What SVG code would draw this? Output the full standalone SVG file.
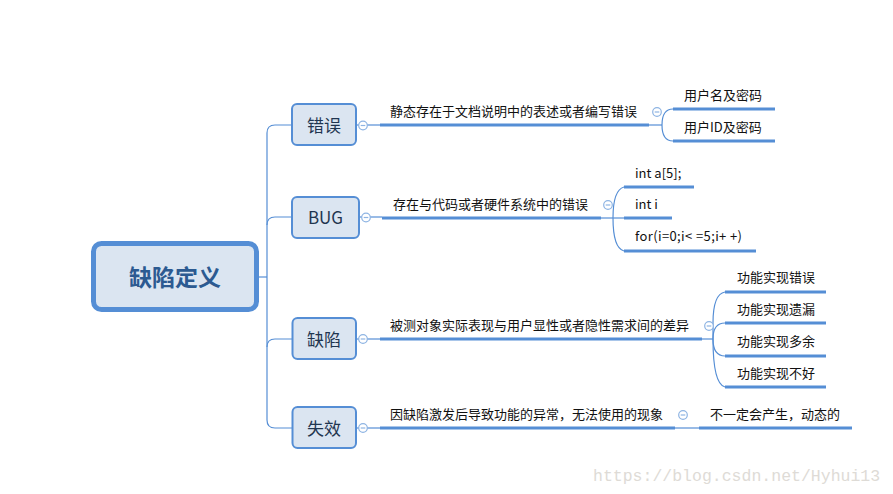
<svg xmlns="http://www.w3.org/2000/svg" width="893" height="494" viewBox="0 0 893 494">
<style>
.bg{fill:#ffffff}
.root{fill:#dbe5f1;stroke:#558ed5;stroke-width:5}
.main{fill:#dbe5f1;stroke:#558ed5;stroke-width:2}
.thin{fill:none;stroke:#558ed5;stroke-width:1.2}
.thick{fill:none;stroke:#558ed5;stroke-width:3}
.col{fill:#ffffff;stroke:#8eb4e3;stroke-width:1.2}
.colbar{stroke:#8eb4e3;stroke-width:1.2}
text{font-family:"Microsoft YaHei","Noto Sans CJK SC","Noto Sans",sans-serif}
.rt{font-size:23px;font-weight:bold;fill:#2c5a91;text-anchor:middle;dominant-baseline:central}
.mt{font-size:17px;fill:#1f3550;text-anchor:middle;dominant-baseline:central}
.st{font-size:13px;fill:#111111;dominant-baseline:central}
.wm{font-family:"Liberation Mono","DejaVu Sans Mono",monospace;font-size:16.5px;fill:#dedbd6}
</style>
<defs>
<g id="collapse"><circle r="4.3" class="col"/><line x1="-2.3" y1="0" x2="2.3" y2="0" class="colbar"/></g>
</defs>
<rect class="bg" x="0" y="0" width="893" height="494"/>

<g id="connectors">
  <path class="thin" d="M259,277 H267"/>
  <path class="thin" d="M292,125 H275 Q267,125 267,133 V420 Q267,428 275,428 H292"/>
  <path class="thin" d="M267,225 Q267,217 275,217 H292"/>
  <path class="thin" d="M267,347 Q267,339 275,339 H292"/>
  <path class="thin" d="M356,125 H380"/>
  <path class="thin" d="M359,217 H382"/>
  <path class="thin" d="M356,339 H380"/>
  <path class="thin" d="M356,428 H380"/>
  <path class="thin" d="M649,125 H662"/>
  <path class="thin" d="M673,109 Q662,109 662,125 Q662,141 673,141"/>
  <path class="thin" d="M601,218 H624"/>
  <path class="thin" d="M624,187 Q613,190 613,218 Q613,248 624,251"/>
  <path class="thin" d="M702,339 H713"/>
  <path class="thin" d="M725,292 Q713,294 713,323 Q713,339 713,339 Q713,384 725,387"/>
  <path class="thin" d="M725,323 Q713,323 713,339 Q713,356 725,356"/>
  <path class="thin" d="M675,428 H699"/>
</g>

<g id="root">
  <rect class="root" x="93.5" y="243.5" width="163" height="66" rx="8"/>
  <text class="rt" x="175" y="276">缺陷定义</text>
</g>

<g id="n-cuowu">
  <rect class="main" x="292" y="104" width="64" height="41" rx="5"/>
  <text class="mt" x="324" y="124">错误</text>
  <use href="#collapse" x="363" y="125.5"/>
</g>
<g id="n-bug">
  <rect class="main" x="292" y="197" width="67" height="41" rx="5"/>
  <text class="mt" x="325.5" y="216.5">BUG</text>
  <use href="#collapse" x="366" y="217.5"/>
</g>
<g id="n-quexian">
  <rect class="main" x="292.5" y="318" width="63.5" height="41" rx="5"/>
  <text class="mt" x="324" y="338">缺陷</text>
  <use href="#collapse" x="363" y="339"/>
</g>
<g id="n-shixiao">
  <rect class="main" x="292.5" y="407" width="63.5" height="41" rx="5"/>
  <text class="mt" x="324" y="427">失效</text>
  <use href="#collapse" x="363" y="428"/>
</g>

<g id="s-cuowu">
  <path class="thick" d="M380,125 H649"/>
  <text class="st" x="390" y="110.5">静态存在于文档说明中的表述或者编写错误</text>
  <use href="#collapse" x="657" y="112"/>
</g>
<g id="c-yonghuming">
  <path class="thick" d="M673,109 H775"/>
  <text class="st" x="684" y="94.5">用户名及密码</text>
</g>
<g id="c-yonghuid">
  <path class="thick" d="M673,141 H775"/>
  <text class="st" x="684" y="126.5">用户ID及密码</text>
</g>

<g id="s-bug">
  <path class="thick" d="M382,218 H601"/>
  <text class="st" x="393" y="203.5">存在与代码或者硬件系统中的错误</text>
  <use href="#collapse" x="608" y="205"/>
</g>
<g id="c-inta">
  <path class="thick" d="M624,187 H694"/>
  <text class="st" x="635" y="172.5">int a[5];</text>
</g>
<g id="c-inti">
  <path class="thick" d="M624,218 H672"/>
  <text class="st" x="635" y="203.5">int i</text>
</g>
<g id="c-for">
  <path class="thick" d="M624,251 H756"/>
  <text class="st" x="635" y="235.5" textLength="107" lengthAdjust="spacing">for(i=0;i&lt; =5;i+ +)</text>
</g>

<g id="s-quexian">
  <path class="thick" d="M380,339 H702"/>
  <text class="st" x="390" y="324.5">被测对象实际表现与用户显性或者隐性需求间的差异</text>
  <use href="#collapse" x="709" y="326"/>
</g>
<g id="c-q1">
  <path class="thick" d="M725,292 H826"/>
  <text class="st" x="737" y="276.5">功能实现错误</text>
</g>
<g id="c-q2">
  <path class="thick" d="M725,323 H826"/>
  <text class="st" x="737" y="308.5">功能实现遗漏</text>
</g>
<g id="c-q3">
  <path class="thick" d="M725,356 H826"/>
  <text class="st" x="737" y="340.5">功能实现多余</text>
</g>
<g id="c-q4">
  <path class="thick" d="M725,387 H826"/>
  <text class="st" x="737" y="372.5">功能实现不好</text>
</g>

<g id="s-shixiao">
  <path class="thick" d="M380,428 H675"/>
  <text class="st" x="390" y="413.5">因缺陷激发后导致功能的异常，无法使用的现象</text>
  <use href="#collapse" x="683" y="415"/>
</g>
<g id="c-dongtai">
  <path class="thick" d="M699,428 H852"/>
  <text class="st" x="710" y="413.5">不一定会产生，动态的</text>
</g>

<text class="wm" x="593" y="481">https://blog.csdn.net/Hyhui13</text>
</svg>
